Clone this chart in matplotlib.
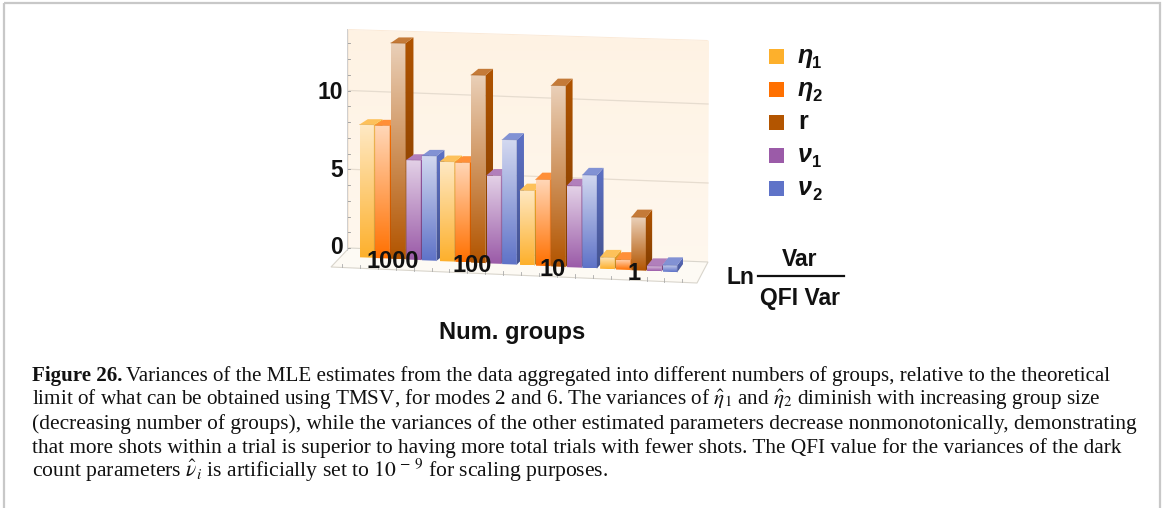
import numpy as np
import matplotlib
matplotlib.use('Agg')
import matplotlib.pyplot as plt
from matplotlib.patches import Polygon, Rectangle

plt.rcParams['mathtext.fontset'] = 'stix'
SANS = 'Liberation Sans'
SERIF = 'Liberation Serif'

# values
groups = ['1000', '100', '10', '1']
params = ['\u03b7', '\u03b7', 'r', '\u03bd', '\u03bd']
subs = ['1', '2', '', '1', '2']
eta1 = [8.0, 6.0, 4.5, 0.7]
eta2 = [8.0, 6.0, 5.2, 0.6]
r = [13.0, 11.3, 10.9, 3.2]
nu1 = [6.0, 5.3, 4.9, 0.3]
nu2 = [6.3, 7.5, 5.6, 0.4]
series = [eta1, eta2, r, nu1, nu2]
colors = ['#FDB02C', '#FF7000', '#B35500', '#9B5BA8', '#5F73C8']
y_ticks = [0, 5, 10]

caption_lines = [
    'Variances of the MLE estimates from the data aggregated into different numbers of groups, relative to the theoretical',
    r'limit of what can be obtained using TMSV, for modes 2 and 6. The variances of $\hat{\eta}_1$ and $\hat{\eta}_2$ diminish with increasing group size',
    '(decreasing number of groups), while the variances of the other estimated parameters decrease nonmonotonically, demonstrating',
    'that more shots within a trial is superior to having more total trials with fewer shots. The QFI value for the variances of the dark',
    r'count parameters $\hat{\nu}_i$ is artificially set to $10^{\,-\,9}$ for scaling purposes.',
]

fig = plt.figure(figsize=(11.63, 5.08), dpi=100)
ax = fig.add_axes([0, 0, 1, 1])
ax.set_xlim(0, 1163)
ax.set_ylim(508, 0)
ax.axis('off')


def mix(c, other, t):
    c = np.array(matplotlib.colors.to_rgb(c))
    other = np.array(matplotlib.colors.to_rgb(other))
    return c * (1 - t) + other * t


def grad_poly(pts, top, bottom, z):
    # vertical gradient clipped to a polygon
    pts = np.array(pts)
    x0, x1 = pts[:, 0].min(), pts[:, 0].max()
    y0, y1 = pts[:, 1].min(), pts[:, 1].max()
    img = np.linspace(0, 1, 64)[:, None, None] * (np.array(bottom) - np.array(top)) + np.array(top)
    im = ax.imshow(img, extent=(x0, x1, y1, y0), aspect='auto', zorder=z, interpolation='bilinear')
    clip = Polygon(pts, closed=True, transform=ax.transData, fc='none', ec='none')
    ax.add_patch(clip)
    im.set_clip_path(clip)


# page frame
ax.add_patch(Rectangle((4, 3), 1156, 530, fc='none', ec='#c8c8c8', lw=1.6, zorder=1))

# back wall, floor
wall = [(349, 30), (709, 41), (708, 262), (349, 248)]
grad_poly(wall, mix('#FEF1E0', '#ffffff', 0.1), mix('#FEF1E0', '#ffffff', 0.45), 2)
ax.add_patch(Polygon([(347, 29), (349, 30), (349, 248), (347, 250)], fc='#F7E9D8', ec='none', zorder=2))
ax.add_patch(Polygon([(349, 30), (347, 29), (707, 40), (709, 41)], fc='#FBE9D6', ec='none', zorder=2))
ax.add_patch(Polygon([(331, 267), (349, 248), (708, 262), (697, 283)], fc='#FDFAF4', ec='#d9d5cc', lw=0.8, zorder=2))

wall_y = lambda v, t: (248 + t * 14) - v * (15.75 + t * 0.05)
for v in [5, 10]:
    ax.plot([349, 708], [wall_y(v, 0), wall_y(v, 1)], color='#E6DCCF', lw=0.9, zorder=3)
for v in range(0, 14):
    ax.plot([347, 350], [wall_y(v, 0)] * 2, color='#999999', lw=0.6, zorder=3)
ax.plot([347, 347], [29, 250], color='#cfcfcf', lw=0.7, zorder=3)
for f in np.linspace(0.03, 0.96, 20):
    x = 331 + f * 366
    y = 267 + f * 16
    ax.plot([x, x], [y, y - 3.5], color='#aaaaaa', lw=0.6, zorder=3)

# bars, left to right so each one covers the side of the one before
bar_w = 14.7
pitch = 15.6
gap = 17.8
base0 = 257.3
slope = 0.0475
unit = 16.6
z = 5
x = 359.5
for g in range(len(groups)):
    for s in range(len(series)):
        v = series[s][g]
        c = colors[s]
        base = base0 + (x - 359.5) * slope
        top = base - v * unit
        f = (x - 359.5) / 302
        dx = 8.3 - 2.4 * f
        dy = -5.3 - 2.4 * f
        fr = [(x, top), (x + bar_w, top + 0.3), (x + bar_w, base + 0.5), (x, base)]
        side = [(x + bar_w, top + 0.3), (x + bar_w + dx, top + dy), (x + bar_w + dx, base + dy), (x + bar_w, base + 0.5)]
        tp = [(x, top), (x + dx, top + dy), (x + bar_w + dx, top + dy), (x + bar_w, top + 0.3)]
        grad_poly(side, mix(c, '#000000', 0.02), mix(c, '#000000', 0.28), z)
        grad_poly(fr, mix(c, '#ffffff', 0.72), mix(c, '#ffffff', 0.0), z + 1)
        ax.add_patch(Polygon(tp, fc=mix(c, '#ffffff', 0.22), ec='none', zorder=z + 1))
        ax.plot([x, x + bar_w, x + bar_w], [top, top + 0.3, base + 0.5], color=mix(c, '#000000', 0.15), lw=0.5, alpha=0.5, zorder=z + 1)
        z += 2
        x += pitch
    x += gap - pitch

# tick labels
for v, y in zip(y_ticks, [247.5, 170.5, 92.5]):
    ax.text(343, y, str(v), family=SANS, weight='bold', fontsize=16.5, ha='right', va='center', zorder=100, color='#111111')
for lab, gx, gy in zip(groups, [393, 472, 553, 634], [262, 265, 269, 273]):
    ax.text(gx, gy, lab, family=SANS, weight='bold', fontsize=17, ha='center', va='center', zorder=100, color='#111111')

ax.text(512, 332, 'Num. groups', family=SANS, weight='bold', fontsize=17, ha='center', va='center', color='#111111')

# legend
for i, y in enumerate([56, 89, 122, 155, 188]):
    ax.add_patch(Rectangle((769, y - 7.5), 15, 15, fc=colors[i], ec='none', zorder=3))
    style = 'normal' if params[i] == 'r' else 'italic'
    ax.text(798, y + 7, params[i], family=SANS, weight='bold', style=style, fontsize=18, ha='left', va='baseline', color='#111111')
    if subs[i]:
        ax.text(812, y + 12, subs[i], family=SANS, weight='bold', fontsize=12, ha='left', va='baseline', color='#111111')

# axis fraction label
ax.text(727, 278, 'Ln', family=SANS, weight='bold', fontsize=16.5, ha='left', va='center', color='#111111')
ax.text(800, 260, 'Var', family=SANS, weight='bold', fontsize=16.5, ha='center', va='center', color='#111111')
ax.text(800, 299, 'QFI Var', family=SANS, weight='bold', fontsize=16.5, ha='center', va='center', color='#111111')
ax.plot([758, 844], [276, 276], color='#111111', lw=1.6)

# caption, sizes fitted so each line ends where it does in the original
cap_sizes = [15.17, 15.25, 15.4, 15.33, 15.6]
cap_y = [381, 405, 429, 453, 477]
t0 = ax.text(32, cap_y[0], 'Figure 26.', family=SERIF, weight='bold', fontsize=cap_sizes[0], va='baseline', color='#111111')
fig.canvas.draw()
bb = t0.get_window_extent()
ax.text(bb.x1 + 4, cap_y[0], caption_lines[0], family=SERIF, fontsize=cap_sizes[0], va='baseline', color='#111111')
for line, y, size in zip(caption_lines[1:], cap_y[1:], cap_sizes[1:]):
    ax.text(32, y, line, family=SERIF, fontsize=size, va='baseline', color='#111111')

ax.set_xlim(0, 1163)
ax.set_ylim(508, 0)
fig.savefig('out.png', dpi=100)
